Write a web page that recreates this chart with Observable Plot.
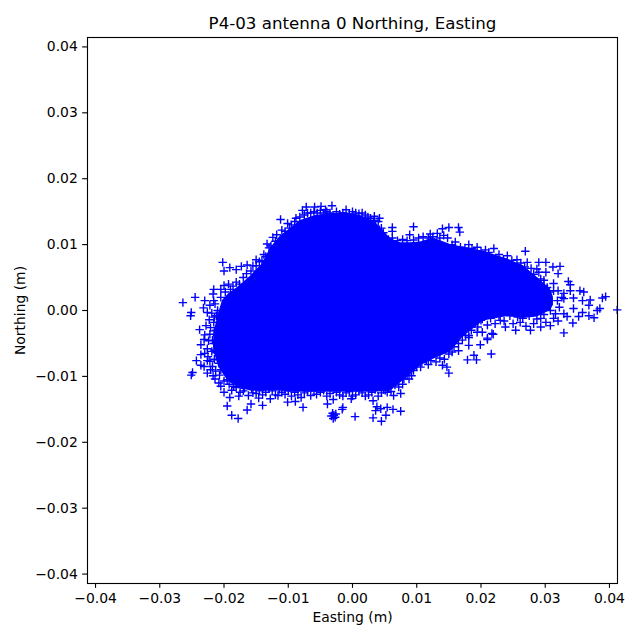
<!DOCTYPE html>
<html>
<head>
<meta charset="utf-8">
<script src="https://cdn.jsdelivr.net/npm/d3@7"></script>
<script src="https://cdn.jsdelivr.net/npm/@observablehq/plot@0.6"></script>
<style>html,body{margin:0;padding:0;background:#fff}</style>
</head>
<body>
<div id="chart"></div>
<script>
const chartTitle = "P4-03 antenna 0 Northing, Easting";
const xLabel = "Easting (m)";
const yLabel = "Northing (m)";
const tickValues = [-0.04, -0.03, -0.02, -0.01, 0, 0.01, 0.02, 0.03, 0.04];

// Envelope of the saturated core, where individual markers cannot be told apart.
const coreEasting = [-.0216,-.02086,-.02023,-.0193,-.01774,-.01588,-.01401,-.01276,-.01121,-.00965,-.00809,-.00576,-.00342,-.00109,.00125,.00358,.00591,.00747,.00903,.01058,.01261,.01525,.01728,.02039,.02412,.02661,.02879,.03082,.03128];
const coreTop = [-.0035,-.0005,.0015,.0025,.0036,.0052,.0071,.0095,.0113,.01244,.01366,.01442,.01472,.01487,.01442,.01335,.01093,.01030,.01030,.01040,.0110,.0100,.0096,.0090,.0078,.0068,.0050,.0032,.0020];
const coreBottom = [-.0060,-.0085,-.0095,-.0108,-.0117,-.0122,-.0123,-.0122,-.0122,-.0124,-.0124,-.0124,-.0124,-.0124,-.0124,-.0124,-.0122,-.0110,-.0098,-.0084,-.0074,-.0063,-.0040,-.0016,-.0009,-.0012,-.0010,0,.0008];

// Individually visible markers around the core: [easting, northing].
const upperLeftMarkers = [[-.0264,.0012],[-.0245,.0020],[-.0251,-.0003],[-.0252,-.0008],[-.0230,.0015],[-.0232,.0004],[-.0216,.0032],[-.0217,.0025],[-.0216,.0015],[-.0202,.0073],[-.0200,.0060],[-.0191,.0065],[-.0181,.0062],[-.0173,.0067],[-.0164,.0069],[-.0150,.0077],[-.0141,.0076],[-.0133,.0101],[-.0124,.0111],[-.0112,.0138],[-.0101,.0132],[-.0078,.0152],[-.0072,.0157],[-.0059,.0157],[-.0049,.0158],[-.0042,.0153],[-.0032,.0159],[-.0010,.0153],[.0034,.0143],[.0042,.0140],[-.0193,.0040],[-.0200,.0038],[-.0181,.0043],[-.0190,.0032],[-.0170,.0050],[-.0158,.0060],[-.0150,.0068],[-.0138,.0085],[-.0130,.0095],[-.0120,.0105],[-.0110,.0122],[-.0098,.0125],[-.0090,.0135],[-.0082,.0142],[-.0070,.0148],[-.0060,.0150],[-.0050,.0152],[-.0040,.0150],[-.0025,.0150],[-.0015,.0148],[.0000,.0150],[.0010,.0147],[.0020,.0145],[.0028,.0140],[.0040,.0135],[.0045,.0125],[.0048,.0118],[.0050,.0110]];
const lowerLeftMarkers = [[-.0228,-.0023],[-.0238,-.0029],[-.0230,-.0037],[-.0231,-.0044],[-.0236,-.0052],[-.0236,-.0067],[-.0243,-.0076],[-.0236,-.0083],[-.0226,-.0076],[-.0249,-.0094],[-.0251,-.0098],[-.0226,-.0095],[-.0217,-.0099],[-.0205,-.0115],[-.0200,-.0124],[-.0191,-.0132],[-.0177,-.0130],[-.0195,-.0145],[-.0188,-.0159],[-.0178,-.0164],[-.0164,-.0151],[-.0158,-.0142],[-.0140,-.0144],[-.0146,-.0133],[-.0128,-.0134],[-.0116,-.0129],[-.0101,-.0139],[-.0089,-.0138],[-.0077,-.0147],[-.0039,-.0142],[-.0029,-.0159],[-.0031,-.0156],[-.0027,-.0162],[-.0030,-.0164],[-.0026,-.0157],[-.0033,-.0160],[.0004,-.0161],[-.0015,-.0147],[-.0016,-.0150],[-.0002,-.0134],[.0032,-.0163],[.0045,-.0168],[.0052,-.0159],[.0038,-.0146],[.0054,-.0147],[.0032,-.0137],[.0054,-.0124],[-.0155,-.0125],[-.0140,-.0128],[-.0125,-.0122],[-.0110,-.0124],[-.0095,-.0130],[-.0085,-.0128],[-.0075,-.0125],[-.0060,-.0122],[-.0050,-.0124],[-.0040,-.0130],[-.0030,-.0135],[-.0020,-.0128],[-.0010,-.0125],[.0005,-.0128],[.0015,-.0125],[.0025,-.0128],[.0040,-.0130],[.0048,-.0120],[-.0215,-.0010],[-.0212,-.0030],[-.0218,-.0045],[-.0215,-.0060],[-.0210,-.0075],[-.0205,-.0090],[-.0195,-.0105],[-.0210,.0000],[-.0205,.0020],[-.0225,-.0070],[-.0218,-.0085],[-.0185,-.0115],[-.0170,-.0122]];
const lowerRightMarkers = [[.0075,-.0153],[.0063,-.0150],[.0036,-.0152],[.0044,-.0149],[.0075,-.0126],[.0064,-.0129],[.0072,-.0116],[.0051,-.0121],[.0088,-.0104],[.0080,-.0104],[.0150,-.0095],[.0147,-.0086],[.0140,-.0083],[.0118,-.0082],[.0106,-.0086],[.0095,-.0091],[.0179,-.0075],[.0189,-.0068],[.0193,-.0075],[.0216,-.0066],[.0165,-.0061],[.0181,-.0053],[.0199,-.0052],[.0210,-.0044],[.0219,-.0036],[.0202,-.0033],[.0181,-.0038],[.0155,-.0063]];
const upperRightMarkers = [[.0095,.0127],[.0140,.0124],[.0150,.0126],[.0165,.0126],[.0167,.0119],[.0089,.0115],[.0062,.0126],[.0062,.0120],[.0121,.0116],[.0132,.0117],[.0142,.0114],[.0160,.0104],[.0181,.0100],[.0194,.0096],[.0220,.0094],[.0207,.0092],[.0269,.0090],[.0241,.0083],[.0256,.0077],[.0272,.0073],[.0290,.0073],[.0301,.0073],[.0312,.0066],[.0323,.0067],[.0320,.0056],[.0301,.0058],[.0287,.0063],[.0336,.0044],[.0339,.0039],[.0339,.0030],[.0354,.0030],[.0360,.0028],[.0394,.0021],[.0389,.0019],[.0412,.0001],[.0385,.0003],[.0370,.0016],[.0344,.0019],[.0329,.0026],[.0313,.0030],[.0319,.0015],[.0329,.0018],[.0358,.0015],[.0368,.0008],[.0344,.0003],[.0358,-.0003],[.0376,-.0011],[.0381,.0000],[.0368,-.0008],[.0352,-.0009],[.0343,-.0019],[.0334,-.0009],[.0329,-.0005],[.0316,-.0005],[.0308,-.0023],[.0329,-.0034],[.0293,-.0025],[.0277,-.0030],[.0254,-.0030],[.0238,-.0025],[.0217,-.0035],[.0210,-.0042],[.0194,-.0033],[.0181,-.0041],[.0202,-.0013],[.0230,-.0015],[.0261,-.0018],[.0287,-.0013],[.0308,.0000],[.0298,.0046],[.0303,.0035],[.0313,.0041],[.0326,.0020]];

// Dense fringe hugging the core: estimated positions, since these markers overlap in the picture.
const leftFringe = [[-.0222,.0008],[-.0214,.0010],[-.0226,-.0003],[-.0219,-.0004],[-.0212,-.0008],[-.0223,-.0014],[-.0216,-.0018],[-.0209,-.0018],[-.0221,-.0026],[-.0215,-.0031],[-.0222,-.0036],[-.0211,-.0038],[-.0224,-.0046],[-.0216,-.0050],[-.0210,-.0049],[-.0226,-.0058],[-.0219,-.0062],[-.0212,-.0064],[-.0230,-.0065],[-.0222,-.0077],[-.0215,-.0074],[-.0208,-.0080],[-.0231,-.0085],[-.0221,-.0090],[-.0213,-.0092],[-.0207,-.0098],[-.0214,-.0104],[-.0200,-.0107],[-.0208,-.0110]];
const bottomFringe = [[-.0192,-.0112],[-.0188,-.0121],[-.0181,-.0117],[-.0175,-.0124],[-.0168,-.0118],[-.0162,-.0129],[-.0157,-.0119],[-.0150,-.0126],[-.0145,-.0122],[-.0135,-.0124],[-.0130,-.0119],[-.0120,-.0128],[-.0114,-.0120],[-.0105,-.0127],[-.0100,-.0122],[-.0090,-.0124],[-.0080,-.0132],[-.0070,-.0122],[-.0065,-.0129],[-.0056,-.0127],[-.0045,-.0121],[-.0035,-.0126],[-.0025,-.0124],[-.0015,-.0130],[-.0005,-.0123],[.0000,-.0130],[.0010,-.0122],[.0020,-.0130],[.0030,-.0124],[.0035,-.0120],[.0045,-.0125],[.0056,-.0118],[.0060,-.0123],[.0066,-.0113]];
const lowerRightFringe = [[.0078,-.0112],[.0085,-.0098],[.0092,-.0099],[.0100,-.0084],[.0108,-.0079],[.0115,-.0075],[.0122,-.0076],[.0130,-.0078],[.0136,-.0072],[.0143,-.0074],[.0150,-.0066],[.0158,-.0055],[.0165,-.0050],[.0171,-.0045],[.0176,-.0038],[.0185,-.0030],[.0190,-.0020],[.0195,-.0025],[.0200,-.0015],[.0210,-.0022],[.0215,-.0012],[.0222,-.0020],[.0228,-.0008],[.0236,-.0016],[.0245,-.0008],[.0250,-.0020],[.0257,-.0010],[.0265,-.0012],[.0270,-.0024],[.0275,-.0008],[.0282,-.0020],[.0293,-.0012],[.0298,-.0006],[.0301,-.0018],[.0313,-.0012],[.0320,-.0016],[.0322,.0005]];
const upperRightFringe = [[.0056,.0108],[.0062,.0110],[.0070,.0106],[.0078,.0108],[.0085,.0106],[.0095,.0107],[.0103,.0110],[.0110,.0112],[.0118,.0110],[.0125,.0112],[.0136,.0110],[.0148,.0110],[.0155,.0100],[.0168,.0096],[.0175,.0095],[.0186,.0094],[.0200,.0090],[.0212,.0088],[.0228,.0085],[.0235,.0078],[.0248,.0076],[.0262,.0072],[.0268,.0066],[.0278,.0064],[.0282,.0055],[.0290,.0058],[.0293,.0048],[.0298,.0038],[.0306,.0028],[.0292,.0040],[.0320,.0030]];
const topFringe = [[-.0205,.0032],[-.0198,.0028],[-.0186,.0037],[-.0176,.0040],[-.0165,.0056],[-.0155,.0068],[-.0145,.0074],[-.0135,.0082],[-.0127,.0098],[-.0118,.0115],[-.0105,.0120],[-.0095,.0130],[-.0088,.0140],[-.0075,.0145],[-.0065,.0148],[-.0055,.0148],[-.0045,.0148],[-.0035,.0148],[-.0020,.0146],[-.0005,.0146],[.0005,.0148],[.0015,.0148],[.0024,.0142],[.0033,.0137],[.0036,.0128],[.0042,.0122]];

const markers = [...upperLeftMarkers, ...lowerLeftMarkers, ...lowerRightMarkers, ...upperRightMarkers, ...leftFringe, ...bottomFringe, ...lowerRightFringe, ...upperRightFringe, ...topFringe];
const core = coreEasting.map((e, i) => ({e, top: coreTop[i], bottom: coreBottom[i]}));
const fmt = d3.format(".2f");

const plot = Plot.plot({
  width: 640, height: 640,
  marginLeft: 87, marginRight: 23, marginTop: 37, marginBottom: 57,
  style: {fontFamily: "'DejaVu Sans'", fontSize: "13.9px", background: "#fff", color: "#000"},
  x: {domain: [-0.04125, 0.04125]},
  y: {domain: [-0.04143, 0.04143]},
  marks: [
    Plot.areaY(core, {x: "e", y1: "bottom", y2: "top", fill: "#0000ff"}),
    Plot.dot(markers, {x: d => d[0], y: d => d[1], symbol: "plus", r: 2.82, stroke: "#0000ff", strokeWidth: 1.39, fill: "none"}),
    Plot.frame({stroke: "#000", strokeWidth: 1.11}),
    Plot.axisX({ticks: tickValues, tickFormat: fmt, tickSize: 4.86, tickPadding: 4.86, strokeWidth: 1.11, label: xLabel, labelAnchor: "center", labelArrow: "none", labelOffset: 38, fontSize: 13.9, fill: "#000", stroke: "#000"}),
    Plot.axisY({ticks: tickValues, tickFormat: fmt, tickSize: 4.86, tickPadding: 4.86, strokeWidth: 1.11, label: yLabel, labelAnchor: "center", labelArrow: "none", labelOffset: 72, fontSize: 13.9, fill: "#000", stroke: "#000"}),
    Plot.text([chartTitle], {frameAnchor: "top", text: d => d, lineAnchor: "bottom", dy: -9, fontSize: 16.67, fill: "#000"})
  ]
});
document.getElementById("chart").appendChild(plot);
</script>
</body>
</html>
